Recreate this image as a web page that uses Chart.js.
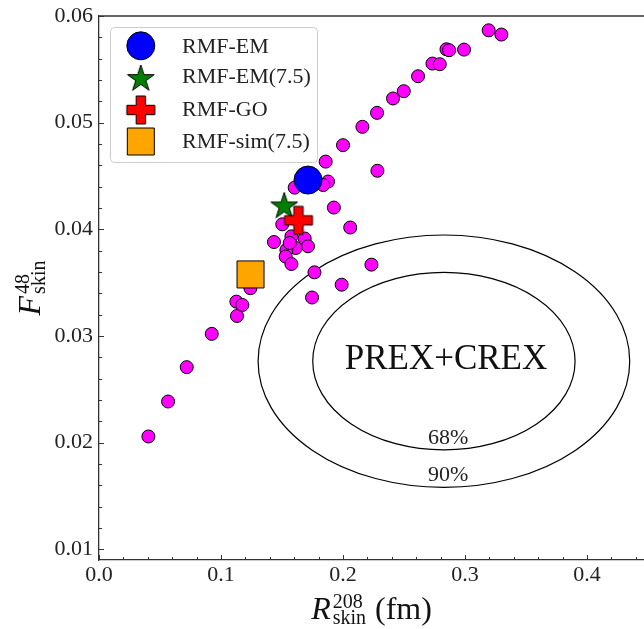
<!DOCTYPE html>
<html>
<head>
<meta charset="utf-8">
<script src="https://cdn.jsdelivr.net/npm/chart.js@4.4.0/dist/chart.umd.min.js"></script>
<style>
  html, body { margin: 0; padding: 0; background: #fff; overflow: hidden; }
  #wrap { width: 644px; height: 629px; }
</style>
</head>
<body>
<div id="wrap"><canvas id="skinChart" width="644" height="629"></canvas></div>
<script>
// RMF model family (magenta cloud)
const modelR208 = [0.0405, 0.0566, 0.0719, 0.0924, 0.1131, 0.1126, 0.1175, 0.1241, 0.1434, 0.1502,
                   0.1577, 0.1686, 0.1713, 0.1612, 0.1536, 0.1530, 0.1577, 0.1563, 0.1604, 0.1877,
                   0.1838, 0.1925, 0.2059, 0.1766, 0.1989, 0.1746, 0.2233, 0.1858, 0.2000, 0.2159,
                   0.2279, 0.2410, 0.2498, 0.2615, 0.2733, 0.2793, 0.2848, 0.2870, 0.2992, 0.3194,
                   0.3298, 0.2282];
const modelF48 = [0.02058, 0.02386, 0.02708, 0.03020, 0.03188, 0.03322, 0.03291, 0.03448, 0.03881, 0.04047,
                  0.03934, 0.03914, 0.03841, 0.03825, 0.03806, 0.03745, 0.03675, 0.03872, 0.04391, 0.04448,
                  0.04415, 0.04204, 0.04017, 0.03597, 0.03481, 0.03361, 0.03669, 0.04635, 0.04789, 0.04961,
                  0.05092, 0.05227, 0.05295, 0.05435, 0.05554, 0.05548, 0.05688, 0.05679, 0.05685, 0.05866,
                  0.05826, 0.04549];

// highlighted models, legend order
const highlightNames = ['RMF-EM', 'RMF-EM(7.5)', 'RMF-GO', 'RMF-sim(7.5)'];
const highlightR208 = [0.1713, 0.1518, 0.1635, 0.1242];
const highlightF48 = [0.04462, 0.04215, 0.04084, 0.03577];
const highlightColors = ['#0000ff', '#008000', '#ff0000', '#ffa500'];

// PREX+CREX contours (68%, 90%)
const contourCenter = [0.2827, 0.02764];
const contourHalfR = [0.1075, 0.1523];
const contourHalfF = [0.00832, 0.01183];
const contourLabels = ['68%', '90%'];
const contourLabelR = [0.2861, 0.2861];
const contourLabelF = [0.0199, 0.01637];
const contourTitle = 'PREX+CREX';
const contourTitlePos = [0.2844, 0.02689];

const serif = "'Liberation Serif', 'DejaVu Serif', serif";
const axisColor = '#333';

function makeMarker(size, draw) {
    const c = document.createElement('canvas');
    c.width = size;
    c.height = size;
    const g = c.getContext('2d');
    g.translate(size / 2, size / 2);
    draw(g);
    return c;
}

const starImg = makeMarker(34, function (g) {
    const R = 14, r = R * 0.382;
    g.beginPath();
    for (let i = 0; i < 10; i++) {
        const rad = i % 2 === 0 ? R : r;
        const a = -Math.PI / 2 + i * Math.PI / 5;
        g.lineTo(rad * Math.cos(a), rad * Math.sin(a));
    }
    g.closePath();
    g.fillStyle = highlightColors[1];
    g.fill();
    g.lineWidth = 1;
    g.strokeStyle = '#000';
    g.stroke();
});

const plusImg = makeMarker(32, function (g) {
    const s = 14, w = 4.7;
    g.beginPath();
    g.moveTo(-w, -s); g.lineTo(w, -s); g.lineTo(w, -w); g.lineTo(s, -w);
    g.lineTo(s, w); g.lineTo(w, w); g.lineTo(w, s); g.lineTo(-w, s);
    g.lineTo(-w, w); g.lineTo(-s, w); g.lineTo(-s, -w); g.lineTo(-w, -w);
    g.closePath();
    g.fillStyle = highlightColors[2];
    g.fill();
    g.lineWidth = 1;
    g.strokeStyle = '#000';
    g.stroke();
});

const highlightStyles = ['circle', starImg, plusImg, 'rect'];
const highlightRadius = [14, 14, 14, 19.1];

function drawScripted(ctx, base, sup, sub, tail) {
    const mainFont = 'italic 32px ' + serif;
    const scriptFont = '20px ' + serif;
    ctx.font = mainFont;
    const wb = ctx.measureText(base).width;
    ctx.font = scriptFont;
    const ws = Math.max(ctx.measureText(sup).width, ctx.measureText(sub).width);
    ctx.font = '32px ' + serif;
    const wt = tail ? ctx.measureText(tail).width + 9 : 0;
    const total = wb + 2 + ws + wt;
    let x = -total / 2;
    ctx.textAlign = 'left';
    ctx.textBaseline = 'alphabetic';
    ctx.fillStyle = '#111';
    ctx.font = mainFont;
    ctx.fillText(base, x, 0);
    x += wb + 2;
    ctx.font = scriptFont;
    ctx.fillText(sup, x, -11);
    ctx.fillText(sub, x, 5);
    x += ws + 9;
    if (tail) {
        ctx.font = '32px ' + serif;
        ctx.fillText(tail, x, 0);
    }
}

const skinDecor = {
    id: 'skinDecor',
    beforeDatasetsDraw(chart) {
        const {ctx, chartArea, scales: {x, y}} = chart;
        ctx.save();
        ctx.beginPath();
        ctx.rect(chartArea.left, chartArea.top, chartArea.right - chartArea.left, chartArea.bottom - chartArea.top);
        ctx.clip();
        const cx = x.getPixelForValue(contourCenter[0]);
        const cy = y.getPixelForValue(contourCenter[1]);
        ctx.strokeStyle = '#000';
        ctx.lineWidth = 1.2;
        for (let i = 0; i < contourHalfR.length; i++) {
            const rx = x.getPixelForValue(contourCenter[0] + contourHalfR[i]) - cx;
            const ry = y.getPixelForValue(contourCenter[1] - contourHalfF[i]) - cy;
            ctx.beginPath();
            ctx.ellipse(cx, cy, rx, ry, 0, 0, Math.PI * 2);
            ctx.stroke();
        }
        ctx.fillStyle = '#222';
        ctx.textAlign = 'center';
        ctx.textBaseline = 'alphabetic';
        ctx.font = '22px ' + serif;
        for (let i = 0; i < contourLabels.length; i++) {
            ctx.fillText(contourLabels[i], x.getPixelForValue(contourLabelR[i]), y.getPixelForValue(contourLabelF[i]));
        }
        ctx.fillStyle = '#111';
        ctx.font = '35px ' + serif;
        ctx.fillText(contourTitle, x.getPixelForValue(contourTitlePos[0]), y.getPixelForValue(contourTitlePos[1]));
        ctx.restore();
    },
    afterDraw(chart) {
        const {ctx, chartArea, scales: {x, y}} = chart;
        ctx.save();
        // inward ticks, major + minor
        ctx.strokeStyle = axisColor;
        ctx.lineWidth = 1;
        ctx.beginPath();
        for (let i = 0; i * 0.02 <= x.max + 1e-9; i++) {
            const px = Math.round(x.getPixelForValue(i * 0.02)) + 0.5;
            const len = i % 5 === 0 ? 5 : 3;
            ctx.moveTo(px, chartArea.bottom);
            ctx.lineTo(px, chartArea.bottom - len);
        }
        for (let i = 5; i * 0.002 <= y.max + 1e-9; i++) {
            const py = Math.round(y.getPixelForValue(i * 0.002)) + 0.5;
            const len = i % 5 === 0 ? 5 : 3;
            ctx.moveTo(chartArea.left, py);
            ctx.lineTo(chartArea.left + len, py);
        }
        ctx.stroke();
        // top spine
        ctx.lineWidth = 1.3;
        ctx.beginPath();
        ctx.moveTo(chartArea.left, chartArea.top);
        ctx.lineTo(chartArea.right, chartArea.top);
        ctx.stroke();

        // axis titles
        ctx.save();
        ctx.translate((chartArea.left + chartArea.right) / 2, 619);
        drawScripted(ctx, 'R', '208', 'skin', '(fm)');
        ctx.restore();
        ctx.save();
        ctx.translate(39.5, (chartArea.top + chartArea.bottom) / 2);
        ctx.rotate(-Math.PI / 2);
        drawScripted(ctx, 'F', '48', 'skin', '');
        ctx.restore();

        // legend
        const lx = 110, ly = 27, lw = 207, lh = 135;
        ctx.beginPath();
        ctx.roundRect(lx + 0.5, ly + 0.5, lw, lh, 4);
        ctx.fillStyle = 'rgba(255,255,255,0.85)';
        ctx.fill();
        ctx.strokeStyle = '#cccccc';
        ctx.lineWidth = 1;
        ctx.stroke();
        const rows = [45.8, 79, 110, 141.5];
        const mx = 140.8;
        ctx.lineWidth = 1;
        ctx.strokeStyle = '#000';
        ctx.beginPath();
        ctx.arc(mx, rows[0], 14, 0, Math.PI * 2);
        ctx.fillStyle = highlightColors[0];
        ctx.fill();
        ctx.stroke();
        ctx.drawImage(starImg, mx - starImg.width / 2, rows[1] - starImg.height / 2);
        ctx.drawImage(plusImg, mx - plusImg.width / 2, rows[2] - plusImg.height / 2);
        ctx.beginPath();
        ctx.rect(mx - 13.5, rows[3] - 13.5, 27, 27);
        ctx.fillStyle = highlightColors[3];
        ctx.fill();
        ctx.stroke();
        ctx.fillStyle = '#222';
        ctx.font = '22px ' + serif;
        ctx.textAlign = 'left';
        ctx.textBaseline = 'alphabetic';
        const textBase = [52.7, 83.3, 116, 148.3];
        for (let i = 0; i < highlightNames.length; i++) {
            ctx.fillText(highlightNames[i], 182, textBase[i]);
        }
        ctx.restore();
    }
};

const datasets = [{
    label: 'RMF models',
    data: modelR208.map((r, i) => ({x: r, y: modelF48[i]})),
    pointRadius: 6.5,
    pointBackgroundColor: '#ff00ff',
    pointBorderColor: '#000',
    pointBorderWidth: 1,
    order: 10
}];
highlightNames.forEach(function (name, i) {
    datasets.push({
        label: name,
        data: [{x: highlightR208[i], y: highlightF48[i]}],
        pointStyle: highlightStyles[i],
        pointRadius: highlightRadius[i],
        pointBackgroundColor: highlightColors[i],
        pointBorderColor: '#000',
        pointBorderWidth: 1,
        order: 4 - i
    });
});

document.addEventListener('DOMContentLoaded', function () {
    const ctx = document.getElementById('skinChart').getContext('2d');
    new Chart(ctx, {
        type: 'scatter',
        data: { datasets: datasets },
        options: {
            responsive: false,
            animation: false,
            layout: { autoPadding: false, padding: { top: 16, left: 0, right: 0, bottom: 0 } },
            plugins: {
                legend: { display: false },
                tooltip: { enabled: false }
            },
            scales: {
                x: {
                    type: 'linear',
                    min: 0,
                    max: 0.4467,
                    border: { display: true, color: axisColor, width: 1.3 },
                    grid: { display: false, drawTicks: false },
                    ticks: {
                        stepSize: 0.1,
                        includeBounds: false,
                        padding: 2,
                        color: '#222',
                        font: { family: serif, size: 22 },
                        callback: v => v.toFixed(1)
                    },
                    afterFit(scale) {
                        scale.height = 69;
                        scale.paddingLeft = 0;
                        scale.paddingRight = 0;
                    }
                },
                y: {
                    type: 'linear',
                    min: 0.009,
                    max: 0.06,
                    border: { display: true, color: axisColor, width: 1.3 },
                    grid: { display: false, drawTicks: false },
                    ticks: {
                        stepSize: 0.01,
                        includeBounds: false,
                        padding: 6,
                        color: '#222',
                        font: { family: serif, size: 22 },
                        callback: v => v.toFixed(2)
                    },
                    afterFit(scale) {
                        scale.width = 99;
                        scale.paddingTop = 0;
                        scale.paddingBottom = 0;
                    }
                }
            }
        },
        plugins: [skinDecor]
    });
});
</script>
</body>
</html>
